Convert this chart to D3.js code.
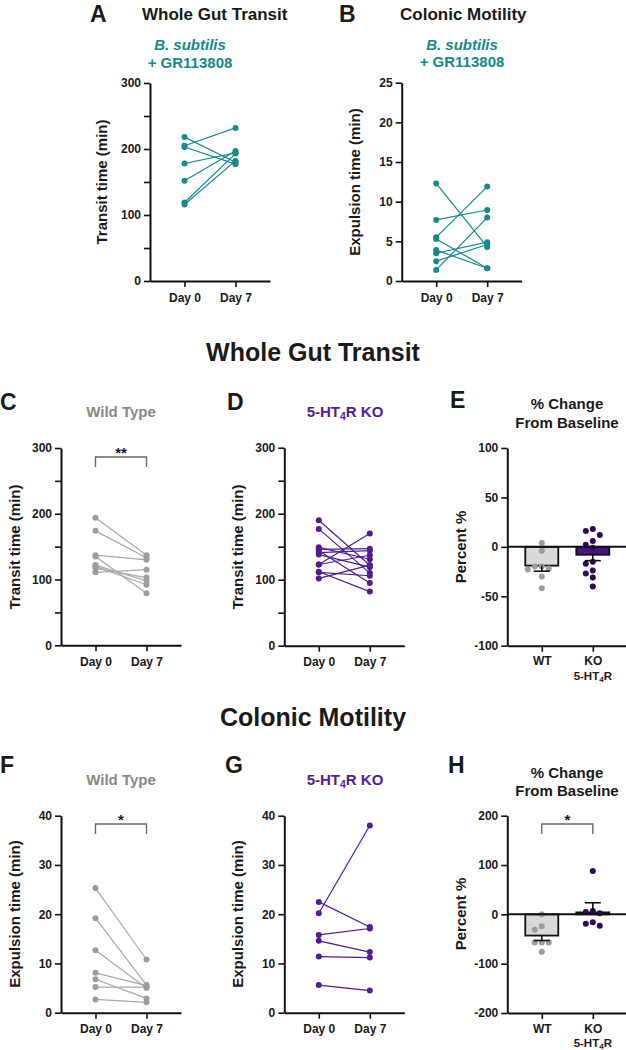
<!DOCTYPE html>
<html><head><meta charset="utf-8">
<script src="https://cdn.jsdelivr.net/npm/d3@7"></script>
<style>
body{margin:0;background:#fff;}
svg{display:block;font-family:"Liberation Sans",Arial,Helvetica,sans-serif;font-weight:bold;}
</style></head><body>
<svg id="chart" width="626" height="1050"></svg>
<script>
// ---------- data ----------
const days = ["Day 0", "Day 7"];
const groups = ["WT", "KO"];

// A: Whole gut transit, B. subtilis + GR113808 (min)
const aDay0 = [218, 205, 203, 178, 152, 119, 116];
const aDay7 = [180, 232, 177, 194, 197, 193, 182];
const transitTicks = [0, 50, 100, 150, 200, 250, 300];
const transitLabels = ["0", "", "100", "", "200", "", "300"];

// B: Colonic motility, B. subtilis + GR113808 (min)
const bDay0 = [12.3, 7.7, 5.5, 5.3, 3.9, 3.5, 2.5, 1.4];
const bDay7 = [4.3, 8.95, 11.9, 1.6, 1.6, 4.9, 4.6, 8.0];
const bTicks = [0, 5, 10, 15, 20, 25];

// C: Whole gut transit, wild type
const cDay0 = [194, 174, 137, 135, 122, 117, 111, 120];
const cDay7 = [137, 133, 130, 79, 98, 103, 115, 92];

// D: Whole gut transit, 5-HT4R KO
const dDay0 = [190, 177, 149, 146, 144, 141, 138, 123, 123, 112, 111, 102];
const dDay7 = [122, 110, 131, 147, 95, 144, 119, 170, 137, 82, 106, 122];

// E: % change from baseline, transit
const eWT = [4, -4, -20, -20, -22, -23, -30, -42];
const eKO = [18, 16, 12, 6, 2, -1, -15, -17, -24, -27, -31, -40];
const eMean = [-19, -8];
const eSem = [5.6, 6];
const eTicks = [-100, -50, 0, 50, 100];

// F: Colonic motility, wild type
const fDay0 = [25.3, 19.2, 12.7, 8.1, 6.8, 5.2, 2.7];
const fDay7 = [10.8, 5.6, 5.0, 5.5, 2.9, 5.2, 2.1];
const expTicks = [0, 10, 20, 30, 40];

// G: Colonic motility, 5-HT4R KO
const gDay0 = [20.2, 22.5, 15.8, 14.6, 11.4, 5.6];
const gDay7 = [38.0, 17.4, 17.1, 12.3, 11.2, 4.5];

// H: % change from baseline, colonic motility
const hWT = [0, -24, -31, -57, -57, -57, -76];
const hKO = [88, 7, 2, 5, -16, -19, -23];
const hMean = [-43, 4];
const hSem = [10, 19.5];
const hTicks = [-200, -100, 0, 100, 200];

const sigC = "**", sigF = "*", sigH = "*";

// ---------- colours ----------
const TEAL = "#178a89", GRAY_L = "#a9a9a9", GRAY_D = "#9c9c9c", GRAY_T = "#878787";
const PURP = "#4f1d91", PURP_BAR = "#47138a", PURP_DOT = "#2c0c52", TXT = "#1a1a1a";

const svg = d3.select("#chart");

function text(x, y, str, opts = {}) {
  const t = svg.append("text").attr("x", x).attr("y", y)
    .attr("font-size", opts.size || 15)
    .attr("fill", opts.fill || TXT)
    .attr("text-anchor", opts.anchor || "middle")
    .attr("font-style", opts.italic ? "italic" : null)
    .text(str);
  return t;
}
function htText(x, y, suffix, opts = {}) {
  const s = opts.size || 15;
  const t = svg.append("text").attr("x", x).attr("y", y)
    .attr("font-size", s)
    .attr("fill", opts.fill || TXT)
    .attr("text-anchor", "middle");
  t.append("tspan").text("5-HT");
  t.append("tspan").attr("font-size", s * 0.7).attr("dy", s * 0.2).text("4");
  t.append("tspan").attr("dy", -s * 0.2).text(suffix);
  return t;
}
function yTitle(cx, cy, str) {
  svg.append("text").attr("transform", `translate(${cx},${cy}) rotate(-90)`)
    .attr("text-anchor", "middle").attr("font-size", 15).attr("fill", TXT).text(str);
}

function styleAxis(g) {
  g.select(".domain").attr("stroke", "#111").attr("stroke-width", 2);
  g.selectAll(".tick line").attr("stroke", "#111").attr("stroke-width", 1.6);
  g.selectAll(".tick text").attr("font-size", 12).attr("font-weight", "bold")
    .attr("fill", TXT).attr("font-family", "Liberation Sans, Arial, sans-serif");
}

function makeFrame(x0, yTop, yBot, dom, ticks, labels, cats, xPad) {
  const x = d3.scalePoint().domain(cats).range([x0, x0 + 120]).padding(0.676);
  const y = d3.scaleLinear().domain(dom).range([yBot, yTop]);
  const ya = d3.axisLeft(y).tickValues(ticks).tickSize(6).tickSizeOuter(0).tickPadding(3)
    .tickFormat((d, i) => labels ? labels[i] : String(d));
  const gy = svg.append("g").attr("transform", `translate(${x0},0)`).call(ya);
  styleAxis(gy);
  const xa = d3.axisBottom(x).tickSize(6).tickSizeOuter(0).tickPadding(xPad || 6);
  const gx = svg.append("g").attr("transform", `translate(0,${yBot})`).call(xa);
  styleAxis(gx);
  return { x, y, gx };
}

function paired(x0, yTop, yBot, dom, ticks, labels, d0, d7, color, dotColor) {
  const { x, y } = makeFrame(x0, yTop, yBot, dom, ticks, labels, days);
  const g = svg.append("g");
  const pairs = d0.map((v, i) => [v, d7[i]]);
  g.selectAll("line.p").data(pairs).join("line")
    .attr("x1", x(days[0])).attr("x2", x(days[1]))
    .attr("y1", d => y(d[0])).attr("y2", d => y(d[1]))
    .attr("stroke", color).attr("stroke-width", 1.2);
  const pts = [];
  pairs.forEach(p => { pts.push([days[0], p[0]]); pts.push([days[1], p[1]]); });
  g.selectAll("circle").data(pts).join("circle")
    .attr("cx", d => x(d[0])).attr("cy", d => y(d[1])).attr("r", 3)
    .attr("fill", dotColor || color);
  return { x, y };
}

function bracket(xa, xb, yb, label) {
  svg.append("path").attr("d", `M${xa},${yb + 10}V${yb}H${xb}V${yb + 10}`)
    .attr("fill", "none").attr("stroke", "#6a6a6a").attr("stroke-width", 1.4);
  text((xa + xb) / 2, yb + 1, label, { size: 15 });
}

function swarm(vals, y, r) {
  const placed = [];
  const order = vals.map((v, i) => i).sort((a, b) => vals[b] - vals[a]);
  const off = new Array(vals.length).fill(0);
  const cands = [0, -7, 7, -14, 14, -21, 21, -28, 28];
  order.forEach(i => {
    const py = y(vals[i]);
    for (const c of cands) {
      if (placed.every(p => Math.hypot(p[0] - c, p[1] - py) >= 2 * r + 0.6)) {
        off[i] = c; placed.push([c, py]); break;
      }
    }
  });
  return off;
}

function barPanel(x0, yTop, yBot, dom, ticks, wt, ko, means, sems) {
  const { x, y } = makeFrame(x0, yTop, yBot, dom, ticks, null, groups, 5);
  htText(x("KO"), yBot + 34, "R", { size: 11.5 });
  const bw = 33;
  const fills = ["#d9d9d9", PURP_BAR];
  const g = svg.append("g");
  g.selectAll("rect").data(means).join("rect")
    .attr("x", (d, i) => x(groups[i]) - bw / 2).attr("width", bw)
    .attr("y", d => Math.min(y(d), y(0))).attr("height", d => Math.abs(y(d) - y(0)))
    .attr("fill", (d, i) => fills[i]).attr("stroke", "#111").attr("stroke-width", 1.8);
  [wt, ko].forEach((vals, gi) => {
    const off = swarm(vals, y, 3);
    g.selectAll(null).data(vals).join("circle")
      .attr("cx", (d, i) => x(groups[gi]) + off[i]).attr("cy", d => y(d)).attr("r", 3)
      .attr("fill", gi === 0 ? GRAY_D : PURP_DOT);
  });
  // one-sided error bars (away from zero)
  means.forEach((m, i) => {
    const e = m < 0 ? m - sems[i] : m + sems[i];
    const cx = x(groups[i]);
    g.append("line").attr("x1", cx).attr("x2", cx).attr("y1", y(m)).attr("y2", y(e))
      .attr("stroke", "#111").attr("stroke-width", 1.6);
    g.append("line").attr("x1", cx - 8).attr("x2", cx + 8).attr("y1", y(e)).attr("y2", y(e))
      .attr("stroke", "#111").attr("stroke-width", 1.6);
  });
  // zero line
  g.append("line").attr("x1", x0).attr("x2", x0 + 120).attr("y1", y(0)).attr("y2", y(0))
    .attr("stroke", "#111").attr("stroke-width", 2);
  return { x, y };
}

// ---------- panel A ----------
text(90, 22, "A", { size: 23, anchor: "start" });
text(142, 20, "Whole Gut Transit", { size: 17, anchor: "start" });
text(190, 50, "B. subtilis", { fill: TEAL, italic: true });
text(190, 68, "+ GR113808", { fill: TEAL });
paired(150, 83, 281, [0, 300], transitTicks, transitLabels, aDay0, aDay7, TEAL);
yTitle(107, 182, "Transit time (min)");

// ---------- panel B ----------
text(339, 22, "B", { size: 23, anchor: "start" });
text(400, 20, "Colonic Motility", { size: 17, anchor: "start" });
text(462, 50, "B. subtilis", { fill: TEAL, italic: true });
text(462, 67, "+ GR113808", { fill: TEAL });
paired(401.7, 82.7, 281, [0, 25], bTicks, null, bDay0, bDay7, TEAL);
yTitle(360, 182, "Expulsion time (min)");

// ---------- section title ----------
text(313, 361, "Whole Gut Transit", { size: 25 });

// ---------- panel C ----------
text(0, 410, "C", { size: 23, anchor: "start" });
text(121, 417, "Wild Type", { fill: GRAY_T });
const pc = paired(61, 448, 645.3, [0, 300], transitTicks, transitLabels, cDay0, cDay7, GRAY_L, GRAY_D);
bracket(pc.x(days[0]), pc.x(days[1]), 457, sigC);
yTitle(20, 547, "Transit time (min)");

// ---------- panel D ----------
text(227, 410, "D", { size: 23, anchor: "start" });
htText(345, 417, "R KO", { fill: PURP });
paired(284.3, 447.7, 645.7, [0, 300], transitTicks, transitLabels, dDay0, dDay7, PURP);
yTitle(243, 547, "Transit time (min)");

// ---------- panel E ----------
text(450, 408, "E", { size: 23, anchor: "start" });
text(567, 409, "% Change");
text(567, 428, "From Baseline");
barPanel(507.3, 448, 645.7, [-100, 100], eTicks, eWT, eKO, eMean, eSem);
yTitle(466, 547, "Percent %");

// ---------- section title ----------
text(313, 726, "Colonic Motility", { size: 25 });

// ---------- panel F ----------
text(0, 773, "F", { size: 23, anchor: "start" });
text(121, 785, "Wild Type", { fill: GRAY_T });
const pf = paired(61, 815.7, 1012.7, [0, 40], expTicks, null, fDay0, fDay7, GRAY_L, GRAY_D);
bracket(pf.x(days[0]), pf.x(days[1]), 824, sigF);
yTitle(20, 914, "Expulsion time (min)");

// ---------- panel G ----------
text(225, 773, "G", { size: 23, anchor: "start" });
htText(345, 785, "R KO", { fill: PURP });
paired(284.3, 815.7, 1012.7, [0, 40], expTicks, null, gDay0, gDay7, PURP);
yTitle(243, 914, "Expulsion time (min)");

// ---------- panel H ----------
text(448, 773, "H", { size: 23, anchor: "start" });
text(567, 778, "% Change");
text(567, 796, "From Baseline");
const ph = barPanel(507.3, 815.7, 1013, [-200, 200], hTicks, hWT, hKO, hMean, hSem);
bracket(ph.x("WT"), ph.x("KO"), 824, sigH);
yTitle(466, 914, "Percent %");
</script>
</body></html>
